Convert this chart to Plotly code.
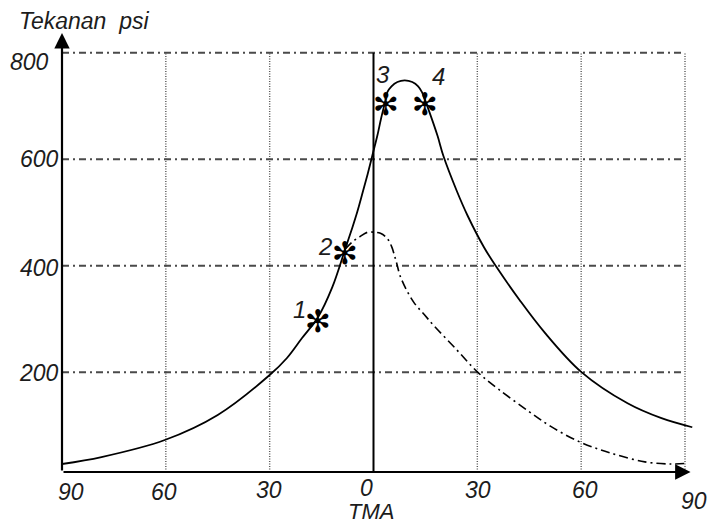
import plotly.graph_objects as go

# ---------------- data ----------------
# Solid curve: compression -> combustion -> expansion (crank angle, psi)
solid_deg = [-90, -78.6, -60.3, -45.0, -30.0, -25.0, -20.7, -16.0, -11.9, -8.2,
             -6.1, -4.7, -3.2, -1.7, -0.3, 1.1, 2.2, 3.4,
             4.0, 5.2, 6.9, 9.0, 11.2, 12.9, 14.0, 14.9,
             15.7, 18.5, 20.2, 24.1, 27.2, 32.0, 35.3, 42.3, 49.3, 60.0, 73.4, 83.2, 92.1]
solid_psi = [28, 41, 73, 120, 195, 227, 264, 304, 360, 431,
             472, 501, 536, 572, 608, 644, 677, 709,
             726, 737, 745, 748, 745, 737, 726, 711,
             697, 644, 606, 540, 494, 434, 400, 335, 276, 201, 142, 114, 97]

# Dash-dot curve: pressure without combustion (motoring)
motor_deg = [-8.2, -6.1, -4.1, -1.7, 0.3, 2.0, 3.9, 5.3, 6.2, 6.7, 7.6, 9.5,
             11.8, 14.6, 17.4, 24.1, 30.0, 36.2, 44.6, 51.1, 59.4, 68.3,
             78.4, 86.1, 90.0]
motor_psi = [431, 445, 454, 463, 463, 461, 452, 435, 416, 405, 383, 355,
             330, 309, 288, 242, 201, 168, 128, 99, 70, 49,
             32, 28, 29]

# Marked points 1..4
star_deg = [-16.0, -8.2, 3.6, 14.9]
star_psi = [304, 431, 711, 711]
star_labels = ["1", "2", "3", "4"]

# Axis ticks
x_tick_vals = [-90, -60, -30, 0, 30, 60, 90]
x_tick_text = ["90", "60", "30", "0", "30", "60", "90"]
y_tick_vals = [200, 400, 600, 800]
y_tick_text = ["200", "400", "600", "800"]

# ---------------- figure ----------------
FONT = "Liberation Sans, Arial, sans-serif"
TXT = "#1c1c1c"
X0, X1 = -90, 92.6
Y0, Y1 = 13, 837

fig = go.Figure()

# grid: horizontal dash-dot lines
for v in y_tick_vals:
    fig.add_shape(type="line", xref="x", yref="y", x0=-90, x1=90, y0=v, y1=v,
                  line=dict(color="#4a4a4a", width=2, dash="7px,4px,2px,4px"),
                  layer="below")
# grid: vertical dotted lines (0 is a solid line)
for v in x_tick_vals[1:]:
    if v == 0:
        fig.add_shape(type="line", xref="x", yref="y", x0=0, x1=0, y0=Y0, y1=800,
                      line=dict(color="black", width=2), layer="below")
    else:
        fig.add_shape(type="line", xref="x", yref="y", x0=v, x1=v, y0=Y0, y1=800,
                      line=dict(color="#555555", width=1.4, dash="1px,1.5px"),
                      layer="below")

fig.add_trace(go.Scatter(x=motor_deg, y=motor_psi, mode="lines",
                         line=dict(color="black", width=1.6, dash="9px,4px,2px,4px",
                                   shape="spline", smoothing=1.0),
                         hoverinfo="skip", cliponaxis=False))
fig.add_trace(go.Scatter(x=solid_deg, y=solid_psi, mode="lines",
                         line=dict(color="black", width=1.8, shape="spline", smoothing=1.0),
                         hoverinfo="skip", cliponaxis=False))

ann = []
# star marks
for xd, yd in zip(star_deg, star_psi):
    ann.append(dict(x=xd, y=yd, xref="x", yref="y", text="\u273B", showarrow=False,
                    yshift=-4,
                    font=dict(family="DejaVu Sans", size=31, color="black")))
# point labels
label_shift = [(-19, 7), (-20, 3), (-3, 26), (13, 24)]
for xd, yd, t, (dx, dy) in zip(star_deg, star_psi, star_labels, label_shift):
    ann.append(dict(x=xd, y=yd, xref="x", yref="y", text=t, showarrow=False,
                    xshift=dx, yshift=dy,
                    font=dict(family=FONT, size=24, color=TXT, style="italic")))

# axes with arrows
ann.append(dict(x=-90, y=Y1, ax=-90, ay=Y0, xref="x", yref="y", axref="x", ayref="y",
                text="", showarrow=True, arrowhead=2, arrowsize=1.4, arrowwidth=2.2,
                arrowcolor="black", standoff=0, startstandoff=0))
ann.append(dict(x=91.6, y=Y0, ax=-90, ay=Y0, xref="x", yref="y", axref="x", ayref="y",
                text="", showarrow=True, arrowhead=2, arrowsize=1.4, arrowwidth=2.2,
                arrowcolor="black", standoff=0, startstandoff=0))

# x tick labels
x_shift = [(9, -20), (-2, -20), (-1, -18), (-7, -16), (1, -18), (4, -18), (9, -29)]
for v, t, (dx, dy) in zip(x_tick_vals, x_tick_text, x_shift):
    ann.append(dict(x=v, y=Y0, xref="x", yref="y", text=t, showarrow=False,
                    xshift=dx, yshift=dy,
                    font=dict(family=FONT, size=23, color=TXT, style="italic")))
# y tick labels
y_shift = [(-1, -1), (-1, -2), (-1, 0), (-11, -9)]
for v, t, (dx, dy) in zip(y_tick_vals, y_tick_text, y_shift):
    ann.append(dict(x=-90, y=v, xref="x", yref="y", text=t, showarrow=False,
                    xanchor="right", xshift=dx, yshift=dy,
                    font=dict(family=FONT, size=23, color=TXT, style="italic")))

# axis titles
ann.append(dict(x=0, y=Y0, xref="x", yref="y", text="TMA", showarrow=False,
                xshift=-3, yshift=-39,
                font=dict(family=FONT, size=22, color=TXT, style="italic")))
ann.append(dict(x=-90, y=Y1, xref="x", yref="y", text="Tekanan\u00a0\u00a0psi",
                showarrow=False, xanchor="left", xshift=-45, yshift=12,
                font=dict(family=FONT, size=23, color=TXT, style="italic")))

fig.update_layout(
    width=707, height=524,
    margin=dict(l=62, r=13, t=33, b=52),
    paper_bgcolor="white", plot_bgcolor="white",
    showlegend=False,
    annotations=ann,
    xaxis=dict(range=[X0, X1], showgrid=False, zeroline=False, showticklabels=False,
               showline=False, ticks=""),
    yaxis=dict(range=[Y0, Y1], showgrid=False, zeroline=False, showticklabels=False,
               showline=False, ticks=""),
)

# remove the page's default 8px body margin so the 707x524 figure fits the window
fig.write_html("out.html",
               config={"displayModeBar": False},
               post_script="document.body.style.margin='0';document.body.style.overflow='hidden';")
